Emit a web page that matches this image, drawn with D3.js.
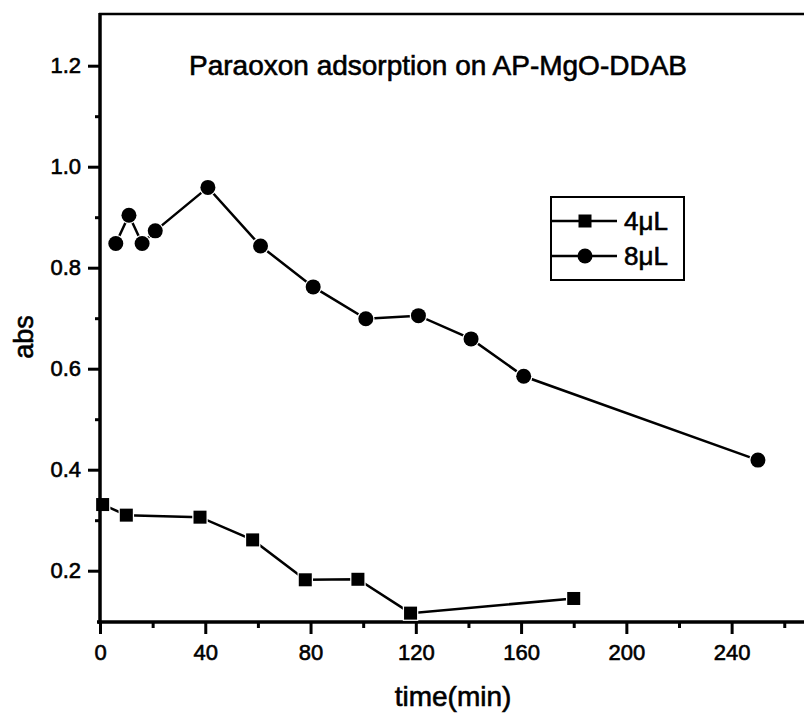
<!DOCTYPE html>
<html>
<head>
<meta charset="utf-8">
<script src="https://cdn.jsdelivr.net/npm/d3@7"></script>
<style>
    body { margin: 0; background: #fff; }
    svg { display: block; font-family: "Liberation Sans", Arial, sans-serif; }
    svg text { stroke: #000; stroke-width: 0.6px; fill: #000; }
</style>
</head>
<body>
<div id="chart"></div>
<script>
// data
const time4 = [1, 10, 38, 58, 78, 98, 118, 180];
const abs4 = [0.331, 0.310, 0.306, 0.261, 0.182, 0.183, 0.116, 0.145];
const time8 = [6, 11, 16, 21, 41, 61, 81, 101, 121, 141, 161, 250];
const abs8 = [0.848, 0.904, 0.848, 0.873, 0.959, 0.843, 0.762, 0.699, 0.705, 0.659, 0.585, 0.419];
const xMajor = [0, 40, 80, 120, 160, 200, 240];
const xMinor = [20, 60, 100, 140, 180, 220, 260];
const yMajor = [0.2, 0.4, 0.6, 0.8, 1.0, 1.2];
const yMinor = [0.3, 0.5, 0.7, 0.9, 1.1];
const seriesNames = ["4\u03bcL", "8\u03bcL"];

const width = 804, height = 713;

const svg = d3.select("#chart")
    .append("svg")
    .attr("width", width)
    .attr("height", height);

const x = d3.scaleLinear()
    .domain([0, 267.5])
    .range([100, 804]);

const y = d3.scaleLinear()
    .domain([0.1, 1.3])
    .range([621.2, 15.2]);

// ---- AXES ----
const xAxis = svg.append("g")
    .attr("transform", `translate(0,622)`)
    .call(d3.axisBottom(x).tickValues(xMajor).tickSize(12).tickPadding(10).tickFormat(d3.format("d")));
xAxis.select(".domain").attr("stroke-width", 3.5).attr("d", "M97,0H804");
xAxis.selectAll(".tick line").attr("stroke-width", 3);
xAxis.selectAll("text").style("font-size", "22px");

const xMinorAxis = svg.append("g")
    .attr("transform", `translate(0,622)`)
    .call(d3.axisBottom(x).tickValues(xMinor).tickSize(6).tickFormat(""));
xMinorAxis.select(".domain").remove();
xMinorAxis.selectAll(".tick line").attr("stroke-width", 3);

const yAxis = svg.append("g")
    .attr("transform", `translate(100,0)`)
    .call(d3.axisLeft(y).tickValues(yMajor).tickSize(12).tickPadding(7).tickFormat(d3.format(".1f")));
yAxis.select(".domain").remove();
yAxis.selectAll(".tick line").attr("stroke-width", 3);
yAxis.selectAll("text").style("font-size", "22px");

const yMinorAxis = svg.append("g")
    .attr("transform", `translate(100,0)`)
    .call(d3.axisLeft(y).tickValues(yMinor).tickSize(5).tickFormat(""));
yMinorAxis.select(".domain").remove();
yMinorAxis.selectAll(".tick line").attr("stroke-width", 3);

// top frame line
svg.append("line")
    .attr("x1", 99).attr("x2", width)
    .attr("y1", 14).attr("y2", 14)
    .attr("stroke", "#000")
    .attr("stroke-width", 2.5);

// ---- SERIES ----
const line = d3.line()
    .x(d => x(d[0]))
    .y(d => y(d[1]));

const data4 = time4.map((t, i) => [t, abs4[i]]);
const data8 = time8.map((t, i) => [t, abs8[i]]);

svg.append("path")
    .datum(data4)
    .attr("d", line)
    .attr("fill", "none")
    .attr("stroke", "#000")
    .attr("stroke-width", 2.5);

svg.append("path")
    .datum(data8)
    .attr("d", line)
    .attr("fill", "none")
    .attr("stroke", "#000")
    .attr("stroke-width", 2.5);

const sq = 13;
svg.selectAll(".sq")
    .data(data4)
    .enter()
    .append("rect")
    .attr("class", "sq")
    .attr("x", d => x(d[0]) - sq / 2)
    .attr("y", d => y(d[1]) - sq / 2)
    .attr("width", sq)
    .attr("height", sq)
    .attr("fill", "#000")
    .attr("stroke", "#fff")
    .attr("stroke-width", 2.5)
    .attr("paint-order", "stroke");

svg.selectAll(".dot")
    .data(data8)
    .enter()
    .append("circle")
    .attr("class", "dot")
    .attr("cx", d => x(d[0]))
    .attr("cy", d => y(d[1]))
    .attr("r", 7.5)
    .attr("fill", "#000")
    .attr("stroke", "#fff")
    .attr("stroke-width", 2.5)
    .attr("paint-order", "stroke");

// left axis line drawn over the first square
svg.append("line")
    .attr("x1", 100).attr("x2", 100)
    .attr("y1", 13).attr("y2", 624)
    .attr("stroke", "#000")
    .attr("stroke-width", 3.5);

// ---- TITLE / LABELS ----
svg.append("text")
    .attr("x", 438)
    .attr("y", 75)
    .style("text-anchor", "middle")
    .style("font-size", "28px")
    .text("Paraoxon adsorption on AP-MgO-DDAB");

svg.append("text")
    .attr("x", 453)
    .attr("y", 706)
    .style("text-anchor", "middle")
    .style("font-size", "28px")
    .text("time(min)");

svg.append("text")
    .attr("transform", "rotate(-90)")
    .attr("x", -337)
    .attr("y", 33)
    .style("text-anchor", "middle")
    .style("font-size", "27px")
    .text("abs");

// ---- LEGEND ----
const legend = svg.append("g");
legend.append("rect")
    .attr("x", 551).attr("y", 197)
    .attr("width", 133).attr("height", 83)
    .attr("fill", "none")
    .attr("stroke", "#000")
    .attr("stroke-width", 2);

const rowY = [221, 256];
rowY.forEach((ry, i) => {
    legend.append("line")
        .attr("x1", 551).attr("x2", 617)
        .attr("y1", ry).attr("y2", ry)
        .attr("stroke", "#000")
        .attr("stroke-width", 2.5);
    if (i === 0) {
        legend.append("rect")
            .attr("x", 585 - sq / 2).attr("y", ry - sq / 2)
            .attr("width", sq).attr("height", sq)
            .attr("fill", "#000");
    } else {
        legend.append("circle")
            .attr("cx", 585).attr("cy", ry)
            .attr("r", 7.5)
            .attr("fill", "#000");
    }
    legend.append("text")
        .attr("x", 624)
        .attr("y", ry + 9)
        .style("font-size", "26px")
        .text(seriesNames[i]);
});
</script>
</body>
</html>
